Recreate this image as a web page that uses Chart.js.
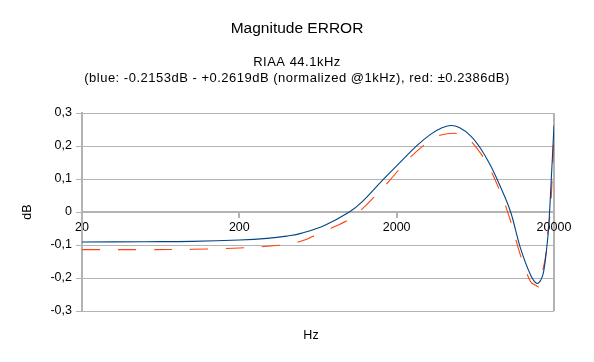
<!DOCTYPE html>
<html>
<head>
<meta charset="utf-8">
<script src="https://cdn.jsdelivr.net/npm/chart.js@4.4.1/dist/chart.umd.min.js"></script>
<style>
  html, body { margin: 0; padding: 0; background: #fff; }
  #wrap { width: 594px; height: 362px; }
</style>
</head>
<body>
<div id="wrap"><canvas id="errChart" width="594" height="362"></canvas></div>
<script>
// -------------------- Data --------------------
const blueFreq = [20, 50, 100, 200, 300, 400, 500, 700, 1000, 1200, 1600, 2000, 2700, 3300, 3800, 4400, 5000, 5900, 6800, 7900, 9100, 10600, 12200, 14200, 15500, 16500, 17200, 18000, 18500, 19200, 20000];
const blueErr  = [-0.091, -0.090, -0.089, -0.085, -0.080, -0.073, -0.064, -0.040, 0.000, 0.030, 0.093, 0.140, 0.202, 0.236, 0.253, 0.262, 0.256, 0.231, 0.194, 0.141, 0.078, 0.000, -0.107, -0.191, -0.216, -0.206, -0.180, -0.107, -0.045, 0.095, 0.262];

const redFreq = [20, 50, 100, 200, 300, 410, 520, 620, 800, 1000, 1200, 1430, 1800, 2330, 2970, 3610, 4200, 4800, 5400, 6180, 7520, 9140, 10600, 12200, 14200, 15300, 16200, 17000, 17600, 18300, 18950, 19500, 20000];
const redErr  = [-0.114, -0.114, -0.113, -0.109, -0.104, -0.097, -0.085, -0.068, -0.045, -0.022, 0.008, 0.044, 0.095, 0.156, 0.202, 0.229, 0.237, 0.238, 0.230, 0.205, 0.146, 0.059, -0.028, -0.129, -0.211, -0.222, -0.226, -0.175, -0.140, -0.060, 0.003, 0.110, 0.2386];

const xTicks = [20, 200, 2000, 20000];
const yTicks = [-0.3, -0.2, -0.1, 0, 0.1, 0.2, 0.3];

const GRID = "#b3b3b3";
const FONT = '"Liberation Sans", Arial, sans-serif';

// -------------------- Titles (drawn on the canvas) --------------------
const titlePlugin = {
  id: "titles",
  afterDraw(chart) {
    const ctx = chart.ctx;
    const cx = chart.width / 2;
    ctx.save();
    ctx.fillStyle = "#000";
    ctx.textAlign = "center";
    ctx.textBaseline = "alphabetic";
    ctx.font = "15.5px " + FONT;
    ctx.fillText("Magnitude ERROR", cx, 33);
    ctx.font = "13px " + FONT;
    ctx.letterSpacing = "0.5px";
    ctx.fillText("RIAA 44.1kHz", cx, 66);
    ctx.fillText("(blue: -0.2153dB - +0.2619dB (normalized @1kHz), red: \u00b10.2386dB)", cx, 82);
    ctx.letterSpacing = "0px";
    ctx.font = "12.5px " + FONT;
    ctx.fillText("Hz", chart.chartArea.left + (chart.chartArea.right - chart.chartArea.left) / 2 - 7, 339);
    ctx.restore();
  }
};

new Chart(document.getElementById("errChart"), {
  type: "line",
  data: {
    datasets: [
      {
        label: "blue",
        data: blueFreq.map((f, i) => ({ x: f, y: blueErr[i] })),
        borderColor: "#004586",
        borderWidth: 1.1,
        pointRadius: 0,
        tension: 0.4,
        fill: false,
      },
      {
        label: "red",
        data: redFreq.map((f, i) => ({ x: f, y: redErr[i] })),
        borderColor: "#ff420e",
        borderWidth: 1.1,
        borderDash: [18, 18],
        pointRadius: 0,
        tension: 0.4,
        fill: false,
      },
    ],
  },
  options: {
    responsive: false,
    animation: false,
    layout: { padding: { top: 113, left: 16, right: 40, bottom: 51 } },
    plugins: {
      legend: { display: false },
      tooltip: { enabled: false },
    },
    scales: {
      x: {
        type: "logarithmic",
        position: { y: 0 },
        min: 20,
        max: 20000,
        afterBuildTicks: (s) => { s.ticks = xTicks.map((v) => ({ value: v })); },
        ticks: {
          autoSkip: false,
          maxRotation: 0,
          padding: 3,
          color: "#000",
          font: { family: FONT, size: 12.5 },
          callback: (v) => String(v),
        },
        grid: {
          drawOnChartArea: true,
          color: (c) => (c.tick && c.tick.value === 20000 ? GRID : "rgba(0,0,0,0)"),
          lineWidth: 2,
          tickColor: GRID,
          tickLength: 5,
        },
        border: { color: GRID, width: 2 },
      },
      y: {
        min: -0.3,
        max: 0.3,
        afterBuildTicks: (s) => { s.ticks = yTicks.map((v) => ({ value: v })); },
        afterFit: (s) => { s.width = 66; },
        ticks: {
          padding: 4,
          color: "#000",
          font: { family: FONT, size: 12.5 },
          callback: (v) => (v === 0 ? "0" : v.toFixed(1).replace(".", ",")),
        },
        grid: { color: GRID, lineWidth: 1, tickColor: GRID, tickLength: 6 },
        border: { color: GRID, width: 2 },
        title: {
          display: true,
          text: "dB",
          color: "#000",
          font: { family: FONT, size: 12.5 },
        },
      },
    },
  },
  plugins: [titlePlugin],
});
</script>
</body>
</html>
